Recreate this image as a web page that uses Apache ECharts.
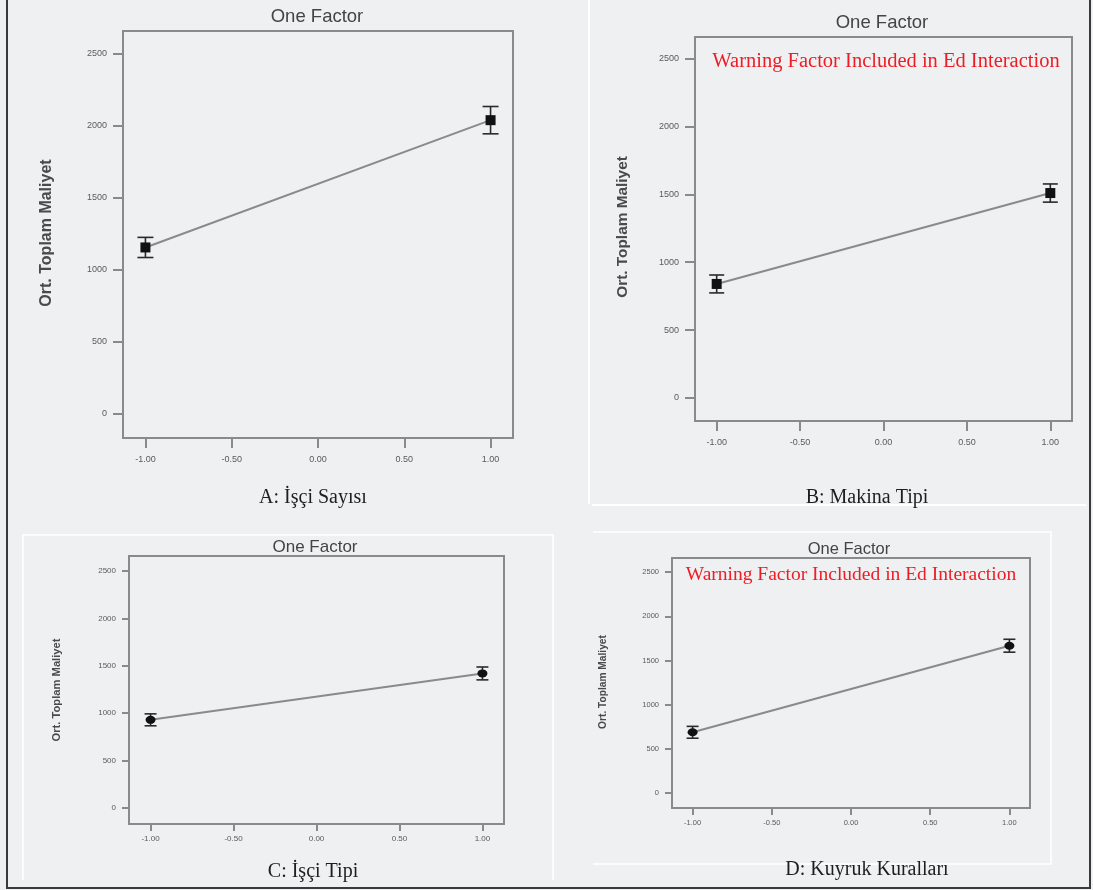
<!DOCTYPE html>
<html>
<head>
<meta charset="utf-8">
<script src="https://cdn.jsdelivr.net/npm/echarts@6/dist/echarts.min.js"></script>
<style>
  html, body { margin: 0; padding: 0; background: #eff0f2; }
  #chart { width: 1093px; height: 890px; }
</style>
</head>
<body>
<div id="chart"></div>
<script>
// factor levels (coded) and axis ticks
const xLevels = [-1, 1]
const xTicks = [-1, -0.5, 0, 0.5, 1]
const yTicks = [0, 500, 1000, 1500, 2000, 2500]

// mean cost per level, and half-width of the error bar
const meanA = [1155, 2040]
const errA = [70, 95]
const meanB = [840, 1510]
const errB = [66, 67]
const meanC = [930, 1420]
const errC = [63, 68]
const meanD = [687, 1667]
const errD = [67, 73]

const captions = ['A: İşçi Sayısı', 'B: Makina Tipi', 'C: İşçi Tipi', 'D: Kuyruk Kuralları']
const plotTitle = 'One Factor'
const yName = 'Ort. Toplam Maliyet'
const warning = 'Warning Factor Included in Ed Interaction'

const panels = [
  { mean: meanA, err: errA, grid: { left: 123, top: 31, width: 390, height: 407 }, tick: 9, tickLen: 10, xMargin: 17, cap: 16, sym: 'rect', symSize: 10,
    title: [317, 17, 18.5], name: [47, 233, 16], caption: [313, 498], warn: null },
  { mean: meanB, err: errB, grid: { left: 695, top: 37, width: 377, height: 384 }, tick: 9, tickLen: 10, xMargin: 17, cap: 15, sym: 'rect', symSize: 10,
    title: [882, 23, 18.5], name: [623, 227, 15.4], caption: [867, 498], warn: [886, 62, 20.5] },
  { mean: meanC, err: errC, grid: { left: 129, top: 556, width: 375, height: 268 }, tick: 8, tickLen: 7, xMargin: 11, cap: 12, sym: 'circle', symSize: [10, 8],
    title: [315, 547, 17], name: [57, 690, 11.2], caption: [313, 872], warn: null },
  { mean: meanD, err: errD, grid: { left: 672, top: 558, width: 358, height: 250 }, tick: 7.5, tickLen: 7, xMargin: 11, cap: 12, sym: 'circle', symSize: [10, 8],
    title: [849, 549, 16.5], name: [603, 682, 10.2], caption: [867, 870], warn: [851, 575, 19.5] }
]

const frameColor = '#8a8a8a'
const labelColor = '#5a5a5a'

const chart = echarts.init(document.getElementById('chart'), null, { renderer: 'canvas' })

const grids = []
const xAxes = []
const yAxes = []
const series = []
const graphics = []

// outer frame and the pale panel boxes
graphics.push({ type: 'rect', shape: { x: 7, y: -2, width: 1083, height: 890 }, style: { fill: null, stroke: '#3a3a3a', lineWidth: 2 }, silent: true })
graphics.push({ type: 'polyline', shape: { points: [[589, 0], [589, 504]] }, style: { stroke: '#ffffff', lineWidth: 2 }, silent: true })
graphics.push({ type: 'polyline', shape: { points: [[592, 505], [1086, 505]] }, style: { stroke: '#ffffff', lineWidth: 2 }, silent: true })
graphics.push({ type: 'polyline', shape: { points: [[23, 880], [23, 535], [553, 535], [553, 880]] }, style: { stroke: '#ffffff', lineWidth: 1.5, fill: null }, silent: true })
graphics.push({ type: 'polyline', shape: { points: [[593, 532], [1051, 532], [1051, 864], [593, 864]] }, style: { stroke: '#ffffff', lineWidth: 1.5, fill: null }, silent: true })

panels.forEach((p, i) => {
  grids.push(Object.assign({ show: true, borderColor: frameColor, borderWidth: 2, backgroundColor: 'transparent' }, p.grid))
  xAxes.push({
    type: 'value', gridIndex: i, min: -1.13, max: 1.13, position: 'bottom',
    axisLine: { show: false, onZero: false },
    splitLine: { show: false },
    axisTick: { show: true, customValues: xTicks, length: p.tickLen, lineStyle: { color: frameColor, width: 2 } },
    axisLabel: { customValues: xTicks, margin: p.xMargin, fontSize: p.tick, color: labelColor, fontFamily: 'Liberation Sans', formatter: v => v.toFixed(2) }
  })
  yAxes.push({
    type: 'value', gridIndex: i, min: -170, max: 2660, position: 'left',
    axisLine: { show: false, onZero: false },
    splitLine: { show: false },
    axisTick: { show: true, customValues: yTicks, length: p.tickLen, lineStyle: { color: frameColor, width: 2 } },
    axisLabel: { customValues: yTicks, margin: p.tickLen + 6, fontSize: p.tick, color: labelColor, fontFamily: 'Liberation Sans', formatter: v => String(v) }
  })
  series.push({
    type: 'line', xAxisIndex: i, yAxisIndex: i,
    data: xLevels.map((x, k) => [x, p.mean[k]]),
    symbol: p.sym, symbolSize: p.symSize, showSymbol: true,
    itemStyle: { color: '#111111' },
    lineStyle: { color: frameColor, width: 2 },
    animation: false, z: 3
  })
  const cap = p.cap
  series.push({
    type: 'custom', xAxisIndex: i, yAxisIndex: i,
    data: xLevels.map((x, k) => [x, p.mean[k] - p.err[k], p.mean[k] + p.err[k]]),
    renderItem: (params, api) => {
      const lo = api.coord([api.value(0), api.value(1)])
      const hi = api.coord([api.value(0), api.value(2)])
      const st = { stroke: '#2a2a2a', lineWidth: 1.6 }
      return {
        type: 'group',
        children: [
          { type: 'line', shape: { x1: lo[0], y1: lo[1], x2: hi[0], y2: hi[1] }, style: st },
          { type: 'line', shape: { x1: lo[0] - cap / 2, y1: lo[1], x2: lo[0] + cap / 2, y2: lo[1] }, style: st },
          { type: 'line', shape: { x1: hi[0] - cap / 2, y1: hi[1], x2: hi[0] + cap / 2, y2: hi[1] }, style: st }
        ]
      }
    },
    animation: false, z: 2
  })

  graphics.push({ type: 'text', x: p.title[0], y: p.title[1],
    style: { text: plotTitle, font: p.title[2] + 'px "Liberation Sans Narrow", "Liberation Sans", sans-serif', fill: '#444444', align: 'center', verticalAlign: 'middle' } })
  graphics.push({ type: 'text', x: p.name[0], y: p.name[1], rotation: Math.PI / 2,
    style: { text: yName, font: 'bold ' + p.name[2] + 'px "Liberation Sans", sans-serif', fill: '#4a4a4a', align: 'center', verticalAlign: 'middle' } })
  graphics.push({ type: 'text', x: p.caption[0], y: p.caption[1],
    style: { text: captions[i], font: '20px "Liberation Serif", serif', fill: '#1e1e1e', align: 'center', verticalAlign: 'middle' } })
  if (p.warn) {
    graphics.push({ type: 'text', x: p.warn[0], y: p.warn[1],
      style: { text: warning, font: p.warn[2] + 'px "Liberation Serif", serif', fill: '#ee1c25', align: 'center', verticalAlign: 'middle' } })
  }
})

chart.setOption({
  backgroundColor: '#eff0f2',
  animation: false,
  grid: grids,
  xAxis: xAxes,
  yAxis: yAxes,
  series: series,
  graphic: graphics
})
</script>
</body>
</html>
